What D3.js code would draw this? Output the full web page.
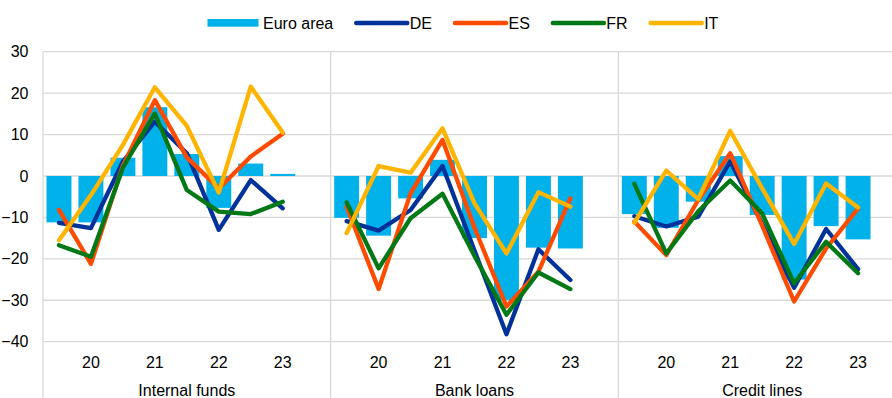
<!DOCTYPE html>
<html>
<head>
<meta charset="utf-8">
<script src="https://cdn.jsdelivr.net/npm/d3@7/dist/d3.min.js"></script>
<style>
  html, body { margin: 0; padding: 0; background: #fff; }
  svg { display: block; font-family: "Liberation Sans", Arial, sans-serif; }
</style>
</head>
<body>
<svg id="chart" width="892" height="398"></svg>
<script>
// Panels (financing source) and the period labels shown under each panel
const panels = ["Internal funds", "Bank loans", "Credit lines"];
const periodLabels = ["", "20", "", "21", "", "22", "", "23"];
const yTicks = [-40, -30, -20, -10, 0, 10, 20, 30];

// Net percentages, one row per panel (Internal funds, Bank loans, Credit lines)
const euroArea = [
  [-11.2, -11.2, 4.4, 16.6, 5.3, -7.7, 3.0, 0.5],
  [-10.1, -14.4, -5.4, 3.9, -15.0, -30.0, -17.3, -17.5],
  [-9.2, -12.5, -6.2, 4.8, -9.4, -25.0, -12.1, -15.3]
];
const de = [
  [-11.3, -12.6, 3.5, 13.1, 5.5, -13.0, -1.0, -7.8],
  [-10.9, -13.2, -8.2, 2.4, -18.0, -38.2, -17.7, -25.1],
  [-9.7, -12.2, -9.8, 3.5, -11.5, -27.0, -12.8, -22.5]
];
const es = [
  [-8.2, -21.2, 2.5, 18.3, 4.5, -3.0, 4.7, 10.2],
  [-7.4, -27.3, -4.2, 8.7, -12.5, -31.5, -23.1, -5.4],
  [-11.0, -19.1, -5.8, 5.5, -12.0, -30.3, -17.5, -7.8]
];
const fr = [
  [-16.7, -19.5, 2.0, 15.1, -3.4, -8.6, -9.2, -6.2],
  [-6.4, -22.3, -10.2, -4.3, -19.3, -33.5, -23.3, -27.3],
  [-1.9, -18.7, -8.5, -1.1, -9.0, -25.9, -15.9, -23.5]
];
const it = [
  [-15.5, -4.6, 7.5, 21.4, 12.1, -4.0, 21.6, 10.5],
  [-13.8, 2.4, 0.8, 11.5, -6.6, -18.7, -3.9, -7.4],
  [-11.3, 1.3, -5.6, 10.9, -3.0, -16.4, -1.8, -7.6]
];

const lineSeries = [
  { name: "DE", values: de, color: "#003299" },
  { name: "ES", values: es, color: "#ff4b00" },
  { name: "FR", values: fr, color: "#007816" },
  { name: "IT", values: it, color: "#ffb400" }
];
const barColor = "#00b1ea";
const gridColor = "#d9d9d9";
const textColor = "#000";

const svg = d3.select("#chart");
const H = 398;
const plotLeft = 43, plotRight = 906, plotTop = 51.7, plotBottom = 341.7;

// Outer scale: one band per panel; each panel holds 8 periods plus an empty slot
const panelX = d3.scaleBand().domain(panels).range([plotLeft, plotRight]);
const pw = panelX.bandwidth();
const periodX = d3.scaleBand()
  .domain(d3.range(periodLabels.length))
  .range([0, pw * 8 / 9])
  .paddingInner(0.22)
  .paddingOuter(0.11);
const cx = (p, i) => panelX(p) + periodX(i) + periodX.bandwidth() / 2;

const y = d3.scaleLinear().domain([-40, 30]).range([plotBottom, plotTop]);

// Horizontal gridlines
svg.append("g").selectAll("line").data(yTicks).join("line")
  .attr("x1", plotLeft).attr("x2", plotRight)
  .attr("y1", d => y(d)).attr("y2", d => y(d))
  .attr("stroke", gridColor).attr("stroke-width", 1.3);

// Vertical panel separators, running down through the label area
const seps = panels.map(p => panelX(p)).concat([plotRight]);
svg.append("g").selectAll("line").data(seps).join("line")
  .attr("x1", d => d).attr("x2", d => d)
  .attr("y1", plotTop).attr("y2", H)
  .attr("stroke", gridColor).attr("stroke-width", 1.3);

// Y axis labels
const yAxis = svg.append("g")
  .attr("transform", `translate(${plotLeft},0)`)
  .call(d3.axisLeft(y).tickValues(yTicks).tickSize(0).tickPadding(14.5).tickFormat(d3.format("d")));
yAxis.select(".domain").remove();
yAxis.selectAll("text").attr("font-size", 16).attr("fill", textColor)
  .attr("font-family", "'Liberation Sans', Arial, sans-serif");

// Panels
panels.forEach((p, pi) => {
  const g = svg.append("g");
  // Euro area bars
  g.selectAll("rect").data(euroArea[pi]).join("rect")
    .attr("x", (d, i) => panelX(p) + periodX(i))
    .attr("width", periodX.bandwidth())
    .attr("y", d => y(Math.max(0, d)))
    .attr("height", d => Math.abs(y(d) - y(0)))
    .attr("fill", barColor);

  // Country lines
  lineSeries.forEach(s => {
    const line = d3.line().x((d, i) => cx(p, i)).y(d => y(d));
    g.append("path")
      .datum(s.values[pi])
      .attr("d", line)
      .attr("fill", "none")
      .attr("stroke", s.color)
      .attr("stroke-width", 4.3)
      .attr("stroke-linejoin", "round")
      .attr("stroke-linecap", "round");
  });

  // Period labels
  g.selectAll("text.period").data(periodLabels).join("text")
    .attr("class", "period")
    .attr("x", (d, i) => cx(p, i))
    .attr("y", 367.5)
    .attr("text-anchor", "middle")
    .attr("font-size", 16).attr("fill", textColor)
    .text(d => d);

  // Panel title
  g.append("text")
    .attr("x", panelX(p) + pw / 2)
    .attr("y", 396)
    .attr("text-anchor", "middle")
    .attr("font-size", 16).attr("fill", textColor)
    .text(p);
});

// Legend
const legendItems = [{ name: "Euro area", color: barColor, bar: true }]
  .concat(lineSeries.map(s => ({ name: s.name, color: s.color, bar: false })));
const legend = svg.append("g");
let lx = 207.5;
const ly = 23;
legendItems.forEach(item => {
  if (item.bar) {
    legend.append("rect").attr("x", lx).attr("y", ly - 4).attr("width", 51).attr("height", 7.7)
      .attr("fill", item.color);
  } else {
    legend.append("line").attr("x1", lx + 2).attr("x2", lx + 53)
      .attr("y1", ly).attr("y2", ly)
      .attr("stroke", item.color).attr("stroke-width", 4.5).attr("stroke-linecap", "round");
  }
  const t = legend.append("text").attr("x", lx + 55.5).attr("y", ly + 5.5)
    .attr("font-size", 16).attr("fill", textColor).text(item.name);
  lx += 55.5 + t.node().getComputedTextLength() + 21;
});
</script>
</body>
</html>
